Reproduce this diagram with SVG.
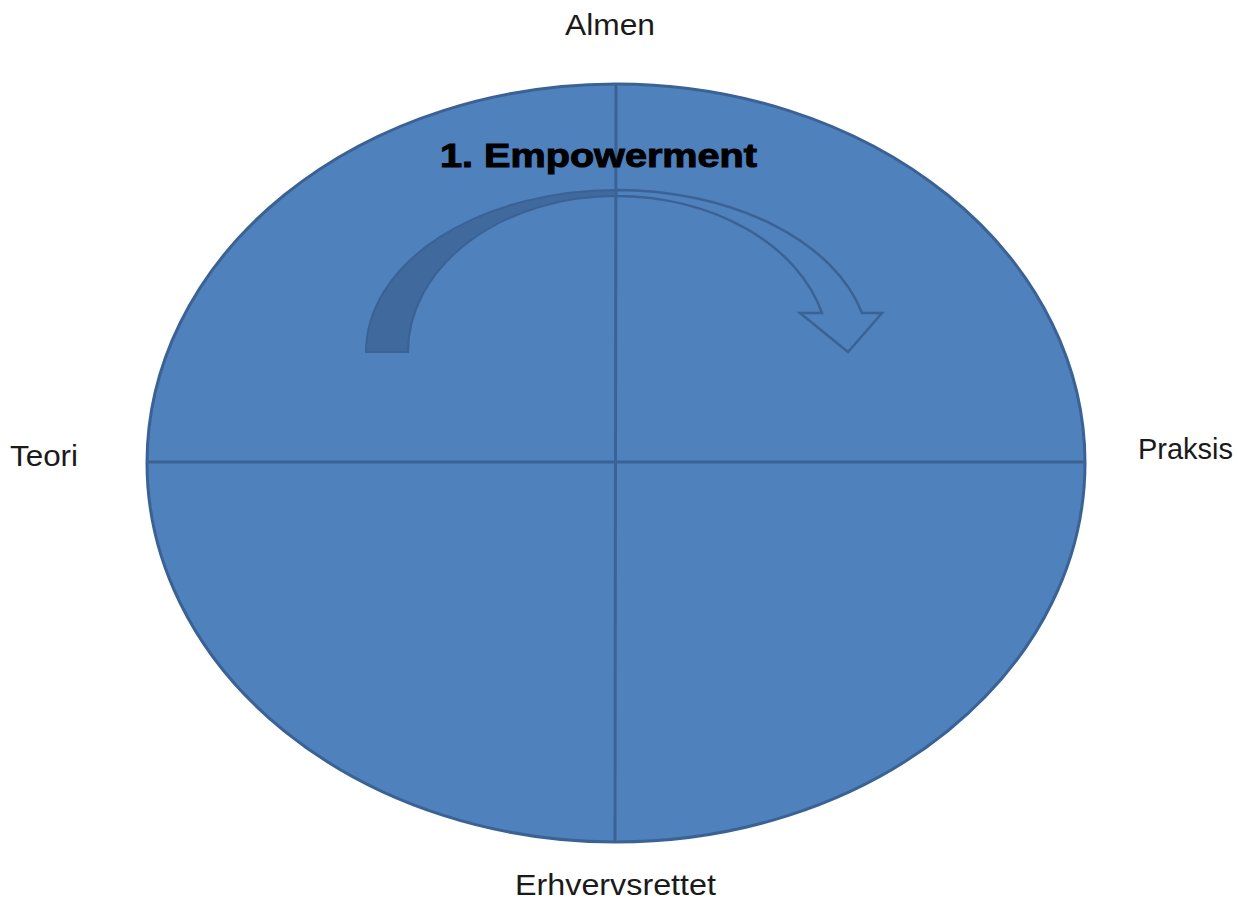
<svg xmlns="http://www.w3.org/2000/svg" width="1238" height="902" viewBox="0 0 1238 902">
  <style>
    .axis-label { font-family: "Liberation Sans", Arial, sans-serif; font-size: 29px; fill: #1a1a1a; }
    .title { font-family: "Liberation Sans", Arial, sans-serif; font-size: 33px; font-weight: bold; fill: #000000; stroke: #000000; stroke-width: 1; }
    .divider { stroke: #3b6295; stroke-width: 3; fill: none; }
  </style>
  <rect width="1238" height="902" fill="#ffffff"/>

  <!-- Quadrant circle -->
  <g id="circle">
    <ellipse cx="616" cy="463" rx="469" ry="379" fill="#4f81bd" stroke="#3b6295" stroke-width="3"/>
  </g>

  <!-- Axes dividing the circle -->
  <g id="connectors">
    <line class="divider" x1="148" y1="462" x2="1085" y2="462"/>
    <line class="divider" x1="616" y1="85" x2="615" y2="842"/>
  </g>

  <!-- Curved arrow -->
  <g id="arrow">
    <path d="M366,352 A250,162 0 0 1 616,190 L616,196 A208,156 0 0 0 408,352 Z" fill="#40699e" stroke="#3b6295" stroke-width="2"/>
    <path d="M616,190 A253,162 0 0 1 862,313 L882,313 L848,352 L800,313 L822,313 A213,156 0 0 0 616,196 Z" fill="none" stroke="#3b6295" stroke-width="2.5" stroke-linejoin="miter"/>
  </g>

  <g id="title">
    <text class="title" x="440" y="167" textLength="317" lengthAdjust="spacingAndGlyphs">1. Empowerment</text>
  </g>

  <g id="label-almen">
    <text class="axis-label" x="565" y="35" textLength="90" lengthAdjust="spacingAndGlyphs">Almen</text>
  </g>
  <g id="label-teori">
    <text class="axis-label" x="10" y="466" textLength="68" lengthAdjust="spacingAndGlyphs">Teori</text>
  </g>
  <g id="label-praksis">
    <text class="axis-label" x="1138" y="459" textLength="95" lengthAdjust="spacingAndGlyphs">Praksis</text>
  </g>
  <g id="label-erhvervsrettet">
    <text class="axis-label" x="515" y="895" textLength="201" lengthAdjust="spacingAndGlyphs">Erhvervsrettet</text>
  </g>
</svg>
